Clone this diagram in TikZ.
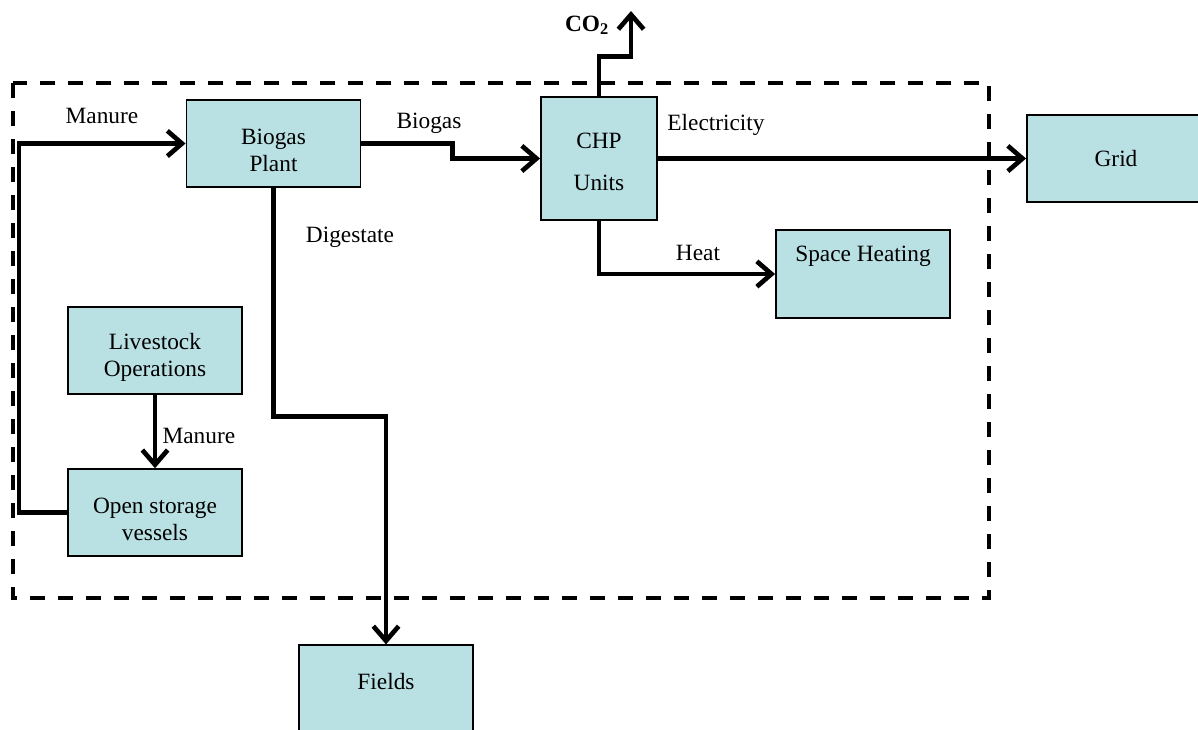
\documentclass[tikz,border=0pt]{standalone}
\usepackage{fontspec}
\setmainfont{Liberation Serif}
\usepackage{tikz}
\usetikzlibrary{arrows.meta,positioning,calc}
\definecolor{biobox}{HTML}{B9E0E3}
\newcommand{\boxpad}[1]{\rule{0pt}{#1}}
\begin{document}
\begin{tikzpicture}[x=0.75pt, y=-0.75pt, font=\fontsize{17.5}{20.5}\selectfont,
  >={Straight Barb[length=11pt,width=19pt]},
  box/.style={draw, fill=biobox, line width=1.4pt, inner sep=0pt, align=center, minimum width=130.5pt, minimum height=65pt},
  flow/.style={->, line width=3.5pt},
  lbl/.style={inner sep=1pt},
  farm/.style={line width=3pt, dash pattern=on 11pt off 10pt}]
  \useasboundingbox (0,0) rectangle (1198,729);
  % ---------- farm boundary ----------
  \draw[farm] (13,83) rectangle (989,598);
  % ---------- units ----------
  \node[box] (bio) at (273.5,143.5) {\boxpad{22pt}Biogas\\Plant};
  \node[box, minimum width=87pt, minimum height=92pt] (chp) at (599,158.5) {\boxpad{16pt}CHP\\[11pt]Units};
  \node[box, minimum width=133.5pt] (grid) at (1116,158.5) {Grid};
  \node[box, minimum height=66pt, text depth=30pt] (heating) at (863,274) {Space Heating};
  \node[box, minimum height=67pt, text depth=13.5pt] (fields) at (386,690) {Fields};
  \node[box] (stock) at (155,350.5) {\boxpad{22pt}Livestock\\Operations};
  \node[box] (store) at (155,512.5) {\boxpad{22pt}Open storage\\vessels};
  \coordinate (co2out) at (631,11);
  % ---------- flows ----------
  \draw[flow] (store.west) -- ++(-48,0) |- (bio.west);
  \draw[flow] (stock) -- (store);
  \draw[flow] (bio.east) -- ++(91,0) |- (chp.west);
  \draw[flow] (bio.south) -- ++(0,229) -| (fields.north);
  \draw[flow] (chp.north) -- ++(0,-40) -| (co2out);
  \draw[flow] (chp.east) -- (grid.west);
  \draw[flow] (chp.south) |- (heating.west);
  % ---------- labels ----------
  \node[lbl] (lmanure) at (102,116) {Manure};
  \node[lbl, anchor=west] (lmanure2) at (161,436) {Manure};
  \node[lbl] (lbiogas) at (429,123) {Biogas};
  \node[lbl] (ldigest) at (350,237) {Digestate};
  \node[lbl] (lco2) at (587,25) {\textbf{CO\textsubscript{2}}};
  \node[lbl] (lelec) at (716,125) {Electricity};
  \node[lbl] (lheat) at (698,253) {Heat};
\end{tikzpicture}
\end{document}
